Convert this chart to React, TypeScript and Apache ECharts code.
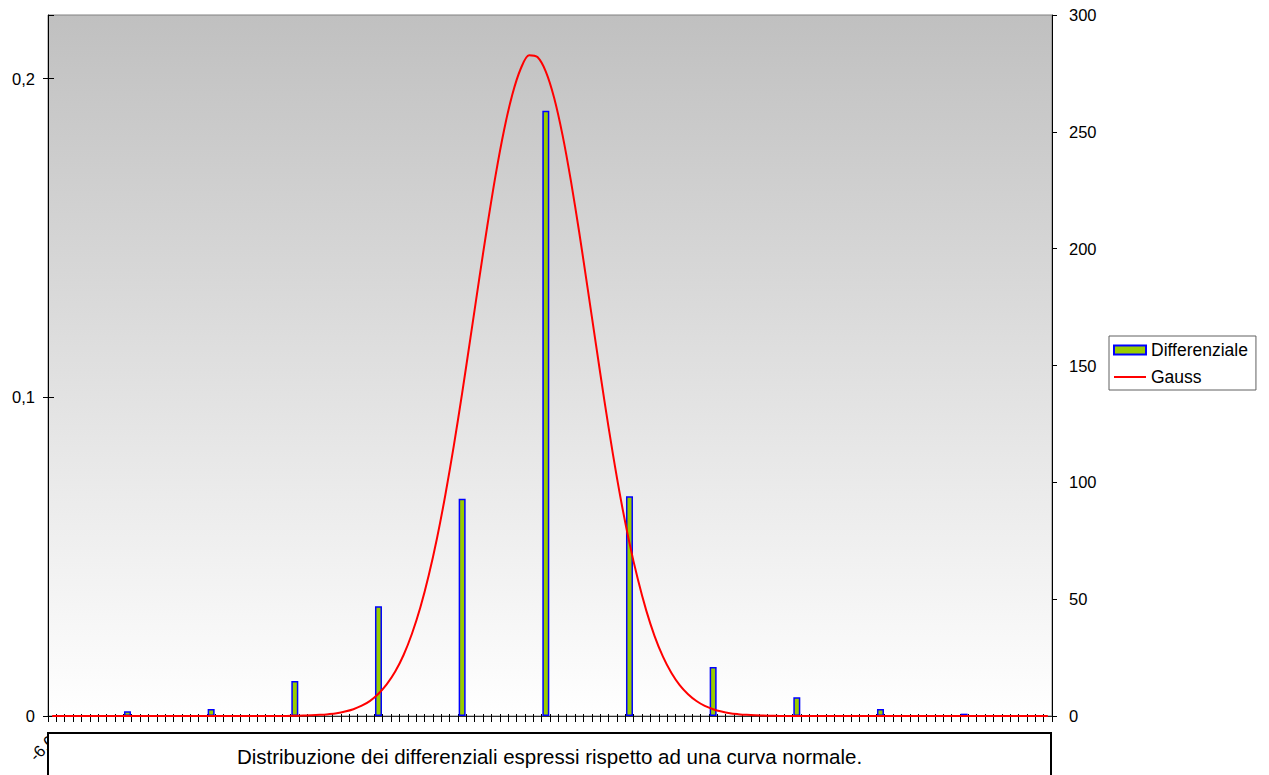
import React, { useEffect, useRef } from "react";
import * as echarts from "echarts";

// Category labels (120 classes)
const categories: string[] = [
  "-6,0","-5,9","-5,8","-5,7","-5,6","-5,5","-5,4","-5,3","-5,2","-5,1",
  "-5,0","-4,9","-4,8","-4,7","-4,6","-4,5","-4,4","-4,3","-4,2","-4,1",
  "-4,0","-3,9","-3,8","-3,7","-3,6","-3,5","-3,4","-3,3","-3,2","-3,1",
  "-3,0","-2,9","-2,8","-2,7","-2,6","-2,5","-2,4","-2,3","-2,2","-2,1",
  "-2,0","-1,9","-1,8","-1,7","-1,6","-1,5","-1,4","-1,3","-1,2","-1,1",
  "-1,0","-0,9","-0,8","-0,7","-0,6","-0,5","-0,4","-0,3","-0,2","-0,1",
  "0,0","0,1","0,2","0,3","0,4","0,5","0,6","0,7","0,8","0,9",
  "1,0","1,1","1,2","1,3","1,4","1,5","1,6","1,7","1,8","1,9",
  "2,0","2,1","2,2","2,3","2,4","2,5","2,6","2,7","2,8","2,9",
  "3,0","3,1","3,2","3,3","3,4","3,5","3,6","3,7","3,8","3,9",
  "4,0","4,1","4,2","4,3","4,4","4,5","4,6","4,7","4,8","4,9",
  "5,0","5,1","5,2","5,3","5,4","5,5","5,6","5,7","5,8","5,9",
];

// Differenziale bars: category where each bar sits, and its value
const barCategories: string[] = ["-5,1", "-4,1", "-3,1", "-2,1", "-1,1", "-0,1", "0,9", "1,9", "2,9", "3,9", "4,9"];
const barValues: number[] = [2, 3, 15, 47, 93, 259, 94, 21, 8, 3, 1];

// Gauss curve, one value per category
const gaussValues: number[] = [
  0, 0, 0, 0, 0, 0, 0, 0, 0, 0,
  0, 0, 0, 0, 0, 0, 0, 0, 0, 0,
  0, 0, 0, 0, 0, 0, 0, 0, 0, 0.1,
  0.2, 0.3, 0.5, 0.8, 1.2, 1.9, 2.9, 4.4, 6.5, 9.5,
  13.6, 19, 26.1, 35.2, 46.4, 60.1, 76.2, 94.8, 115.6, 138.2,
  162, 186.1, 209.6, 231.5, 250.6, 266, 277, 282.8, 282, 275.8,
  264.5, 248.6, 229, 206.8, 183, 158.8, 135, 112.5, 92, 74,
  58.5, 45.2, 34.2, 25.4, 18.5, 13.2, 9.3, 6.4, 4.3, 2.9,
  1.9, 1.2, 0.8, 0.5, 0.3, 0.2, 0.1, 0, 0, 0,
  0, 0, 0, 0, 0, 0, 0, 0, 0, 0,
  0, 0, 0, 0, 0, 0, 0, 0, 0, 0,
  0, 0, 0, 0, 0, 0, 0, 0, 0, 0,
];

const leftTicks = { min: 0, max: 0.22, interval: 0.1 };
const rightTicks = { min: 0, max: 300, interval: 50 };

const titleText = "Distribuzione dei differenziali espressi rispetto ad una curva normale.";
const FONT = "Liberation Sans, Arial, sans-serif";

export default function App() {
  const ref = useRef<HTMLDivElement>(null);

  useEffect(() => {
    if (!ref.current) return;
    const chart = echarts.init(ref.current, undefined, { renderer: "svg" });

    const barData = categories.map((c) => {
      const k = barCategories.indexOf(c);
      return k >= 0 ? barValues[k] : null;
    });

    const gridLeft = 48;
    const gridRight = 1052;

    chart.setOption({
      animation: false,
      textStyle: { fontFamily: FONT },
      grid: {
        left: gridLeft,
        right: 1269 - gridRight,
        top: 15,
        bottom: 775 - 716,
        show: true,
        borderColor: "#808080",
        borderWidth: 1,
        backgroundColor: new echarts.graphic.LinearGradient(0, 0, 0, 1, [
          { offset: 0, color: "#c0c0c0" },
          { offset: 1, color: "#ffffff" },
        ]),
      },
      legend: {
        orient: "vertical",
        left: 1109,
        top: 336,
        padding: [4, 8, 3, 4],
        backgroundColor: "#ffffff",
        borderColor: "#606060",
        borderWidth: 1,
        borderRadius: 0,
        itemWidth: 32,
        itemHeight: 9,
        itemGap: 7,
        textStyle: { fontSize: 17.5, color: "#000", fontFamily: FONT, lineHeight: 20 },
        data: [
          { name: "Differenziale", icon: "rect", itemStyle: { color: "#99cc00", borderColor: "#0000ff", borderWidth: 2 } },
          {
            name: "Gauss",
            icon: "path://M0,0 L0,0 M0,3.5 L32,3.5 L32,5.5 L0,5.5 Z M32,9 L32,9",
            itemStyle: { color: "#ff0000", borderWidth: 0 },
          },
        ],
      },
      xAxis: [
        {
          type: "category",
          data: categories,
          boundaryGap: true,
          axisLine: { lineStyle: { color: "#303030", width: 1 } },
          axisTick: { show: true, interval: 0, length: 6, lineStyle: { color: "#000", width: 1 } },
          axisLabel: {
            interval: (i: number) => i === 0,
            rotate: 45,
            margin: 22,
            fontSize: 16.5,
            color: "#000",
            fontFamily: FONT,
          },
          splitLine: { show: false },
        },
        {
          type: "category",
          data: categories,
          position: "bottom",
          boundaryGap: true,
          axisLine: { show: false },
          axisTick: { show: true, inside: true, interval: 0, length: 2, lineStyle: { color: "#000", width: 1 } },
          axisLabel: { show: false },
          splitLine: { show: false },
        },
      ],
      yAxis: [
        {
          type: "value",
          position: "left",
          min: leftTicks.min,
          max: leftTicks.max,
          interval: leftTicks.interval,
          axisLine: { show: true, lineStyle: { color: "#000" } },
          axisTick: { show: true, length: 5, lineStyle: { color: "#000" } },
          axisLabel: {
            margin: 13,
            fontSize: 16.5,
            color: "#000",
            fontFamily: FONT,
            showMaxLabel: false,
            formatter: (v: number) => String(Math.round(v * 10) / 10).replace(".", ","),
          },
          splitLine: { show: false },
        },
        {
          type: "value",
          position: "right",
          min: rightTicks.min,
          max: rightTicks.max,
          interval: rightTicks.interval,
          axisLine: { show: true, lineStyle: { color: "#000" } },
          axisTick: { show: true, length: 5, lineStyle: { color: "#000" } },
          axisLabel: { margin: 17, fontSize: 16.5, color: "#000", fontFamily: FONT },
          splitLine: { show: false },
        },
        {
          type: "value",
          position: "left",
          min: leftTicks.min,
          max: leftTicks.max,
          interval: leftTicks.interval,
          axisLine: { show: false },
          axisTick: { show: true, inside: true, length: 6, lineStyle: { color: "#000" } },
          axisLabel: { show: false, showMaxLabel: false },
          splitLine: { show: false },
        },
      ],
      series: [
        {
          name: "Differenziale",
          type: "bar",
          yAxisIndex: 1,
          data: barData,
          barWidth: 7,
          itemStyle: { color: "#99cc00", borderColor: "#0000ff", borderWidth: 1.5 },
        },
        {
          name: "Gauss",
          type: "line",
          yAxisIndex: 1,
          data: gaussValues,
          symbol: "none",
          showSymbol: false,
          smooth: 0.3,
          lineStyle: { color: "#ff0000", width: 2, join: "round" },
          itemStyle: { color: "#ff0000" },
        },
      ],
      graphic: [
        {
          type: "rect",
          z: 100,
          shape: { x: 48, y: 733, width: 1003, height: 60 },
          style: { fill: "#ffffff", stroke: "#000000", lineWidth: 2 },
        },
        {
          type: "text",
          z: 101,
          x: 549.5,
          y: 756,
          style: {
            text: titleText,
            fontSize: 20.5,
            fontFamily: FONT,
            fill: "#000",
            textAlign: "center",
            textVerticalAlign: "middle",
          },
        },
      ],
    });

    return () => chart.dispose();
  }, []);

  return (
    <div
      ref={ref}
      style={{ position: "absolute", left: 0, top: 0, width: 1269, height: 775 }}
    />
  );
}
